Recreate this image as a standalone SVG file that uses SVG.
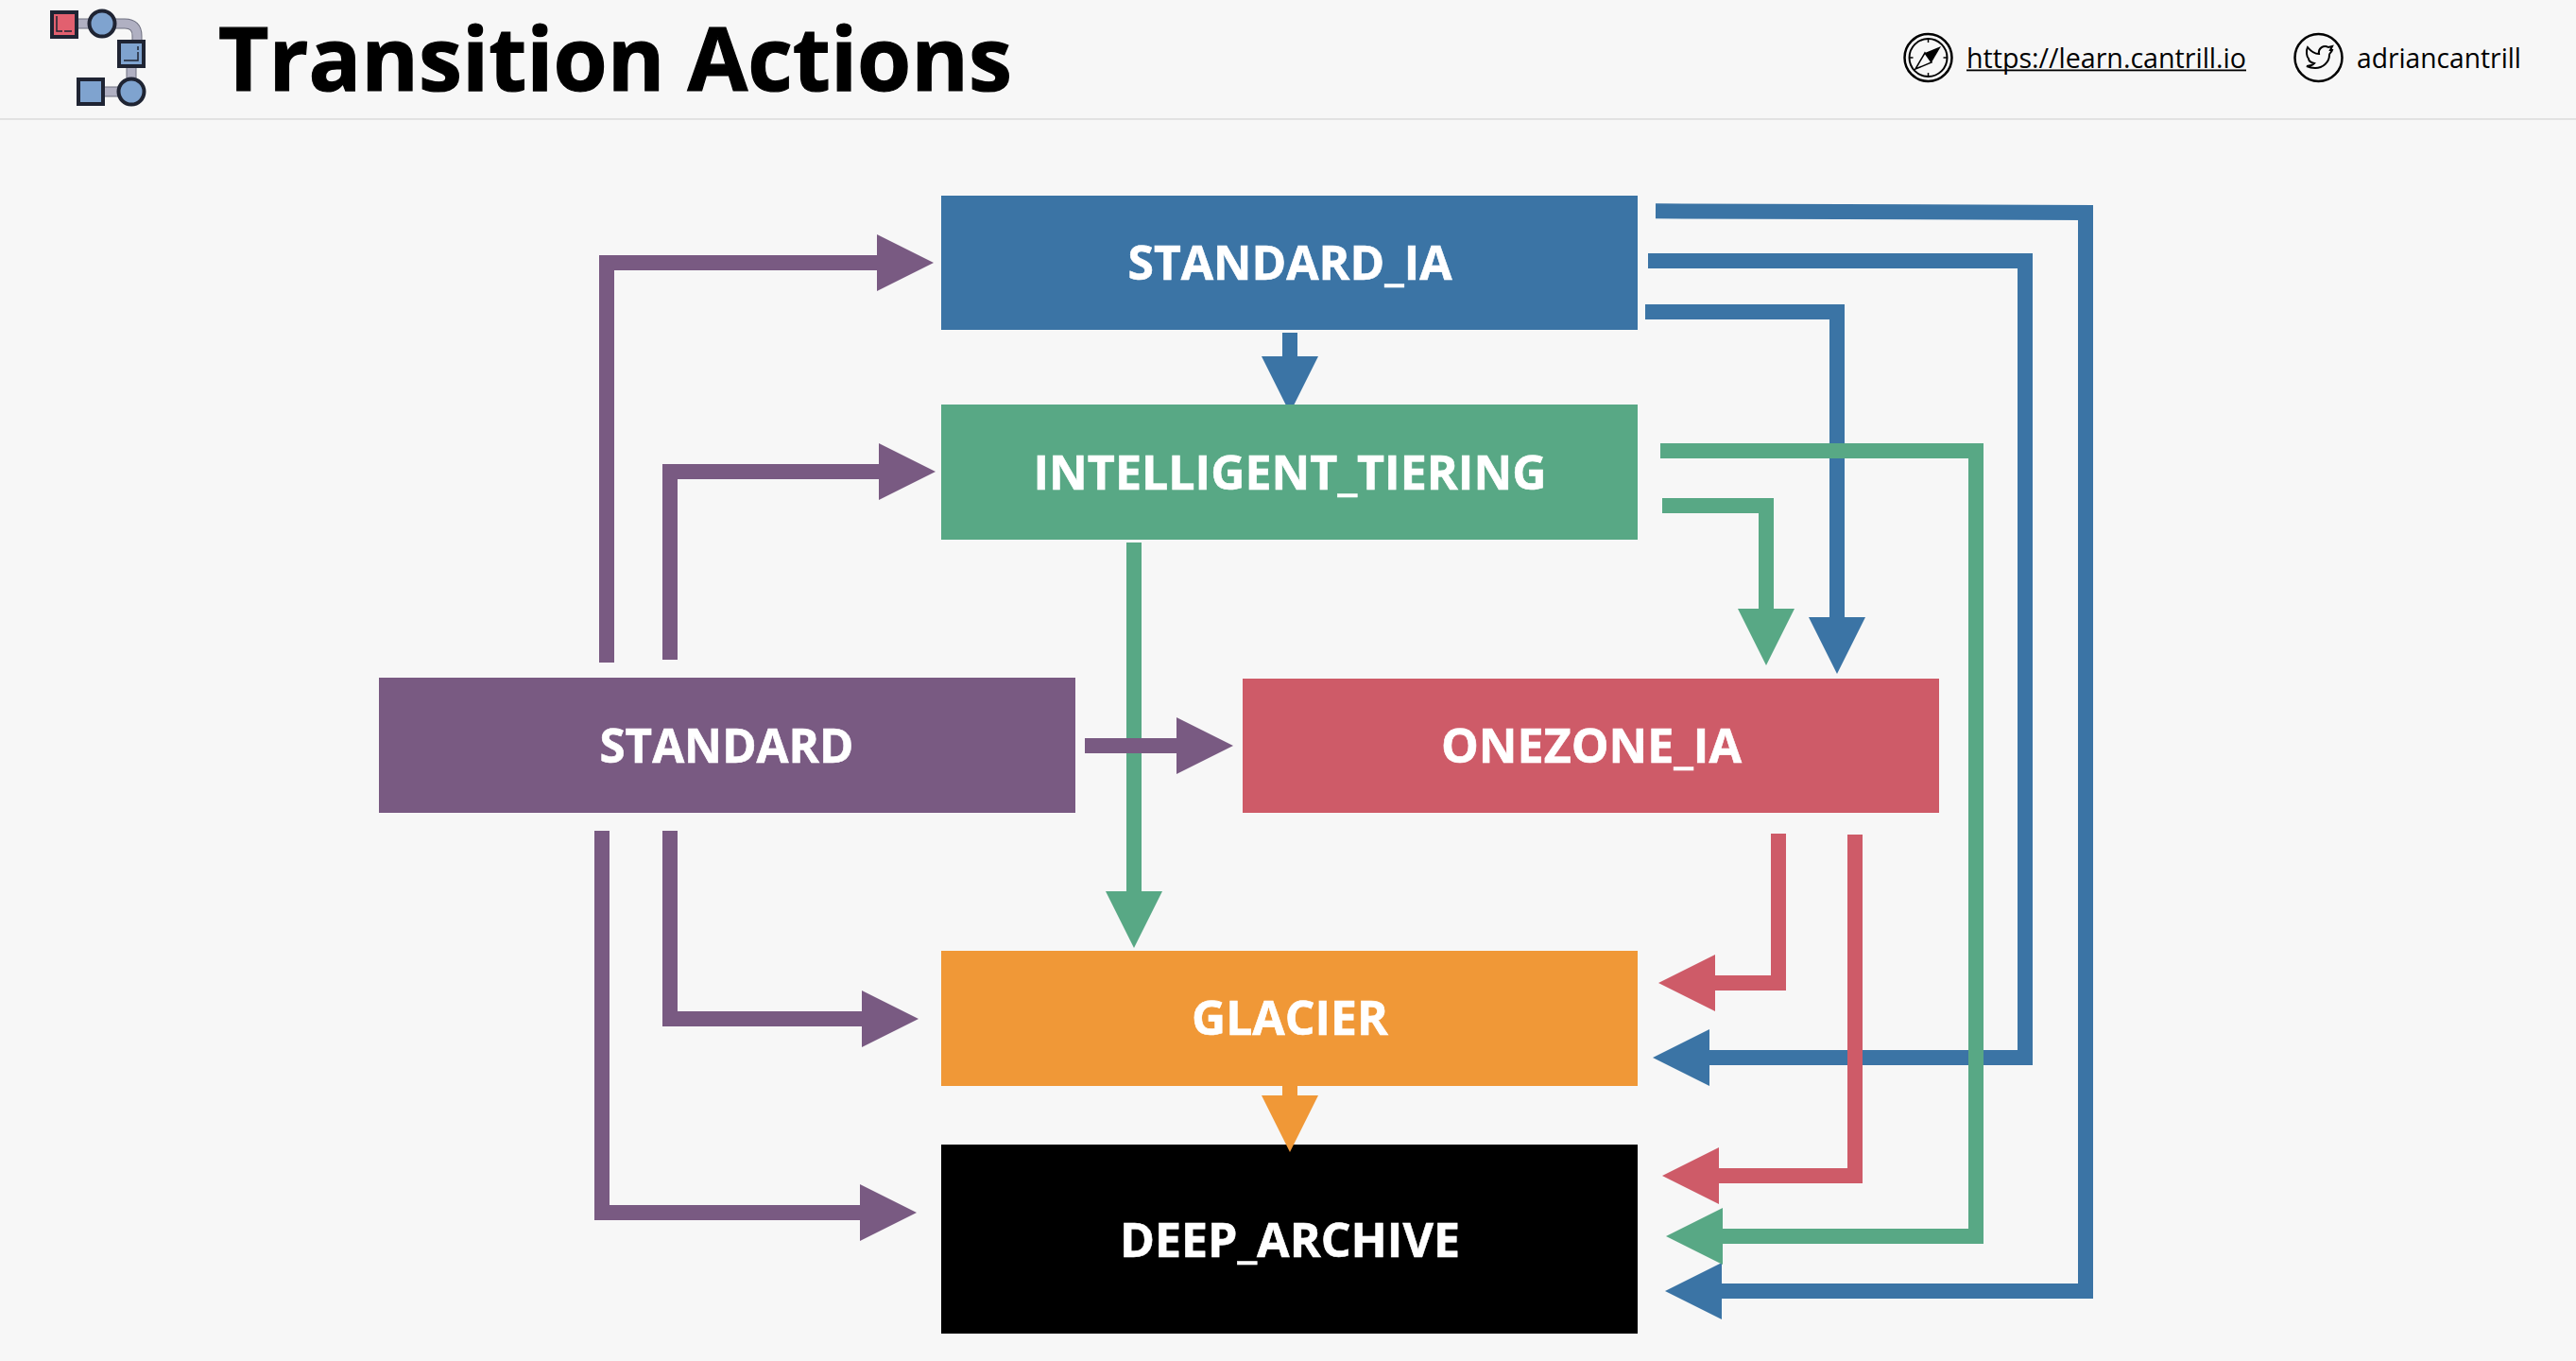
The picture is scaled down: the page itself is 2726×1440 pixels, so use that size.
<svg xmlns="http://www.w3.org/2000/svg" width="2726" height="1440" viewBox="0 0 2726 1440">
<defs>
<style>
text{font-family:"Open Sans","Noto Sans","Liberation Sans",sans-serif}
.n{font-size:51px;font-weight:700;fill:#fff;text-anchor:middle;stroke:#fff;stroke-width:.6}
.c{fill:none;stroke-width:16;stroke-linejoin:miter;stroke-linecap:butt}
.blue{stroke:#3b74a5}.green{stroke:#58a885}.red{stroke:#ce5b68}.purple{stroke:#795a82}.orange{stroke:#f09837}
.k{fill:none;stroke:#000}
.lg{stroke:#1f2433;stroke-width:4}
.link{font-size:29px;fill:#000}
</style>
<marker id="hb" markerUnits="userSpaceOnUse" markerWidth="60" markerHeight="60" viewBox="0 -30 60 60" refX="0" refY="0" orient="auto"><path d="M0-30L60 0L0 30Z" fill="#3b74a5"/></marker>
<marker id="hg" markerUnits="userSpaceOnUse" markerWidth="60" markerHeight="60" viewBox="0 -30 60 60" refX="0" refY="0" orient="auto"><path d="M0-30L60 0L0 30Z" fill="#58a885"/></marker>
<marker id="hr" markerUnits="userSpaceOnUse" markerWidth="60" markerHeight="60" viewBox="0 -30 60 60" refX="0" refY="0" orient="auto"><path d="M0-30L60 0L0 30Z" fill="#ce5b68"/></marker>
<marker id="hp" markerUnits="userSpaceOnUse" markerWidth="60" markerHeight="60" viewBox="0 -30 60 60" refX="0" refY="0" orient="auto"><path d="M0-30L60 0L0 30Z" fill="#795a82"/></marker>
<marker id="ho" markerUnits="userSpaceOnUse" markerWidth="60" markerHeight="60" viewBox="0 -30 60 60" refX="0" refY="0" orient="auto"><path d="M0-30L60 0L0 30Z" fill="#f09837"/></marker>
</defs>
<rect width="2726" height="1440" fill="#f7f7f7"/>
<rect y="125" width="2726" height="2" fill="#e2e2e2"/>
<g id="logo">
<path d="M82 25H94M122 25H132Q145 25 145 38V42M139 72V83M110 97H125" fill="none" stroke="#6f7080" stroke-width="11"/>
<path d="M82 25H94M122 25H132Q145 25 145 38V42M139 72V83M110 97H125" fill="none" stroke="#b0b0c2" stroke-width="9"/>
<rect class="lg" x="55" y="13" width="26" height="26" fill="#e2606f"/>
<path d="M60 17V33H66M68 33H76" fill="none" stroke="#1f2433" stroke-width="1.5"/>
<circle class="lg" cx="108" cy="25" r="13.5" fill="#7fa3cf"/>
<rect class="lg" x="126" y="44" width="26" height="26" fill="#7fa3cf"/>
<path d="M146 49V53M146 55V64H131" fill="none" stroke="#1f2433" stroke-width="1.5"/>
<rect class="lg" x="83" y="84" width="26" height="26" fill="#7fa3cf"/>
<circle class="lg" cx="139" cy="97" r="13.5" fill="#7fa3cf"/>
</g>
<text id="title" x="231" y="96" font-size="94" font-weight="700" fill="#000" stroke="#000" stroke-width="1.2" textLength="840" lengthAdjust="spacingAndGlyphs">Transition Actions</text>
<g id="website">
<circle class="k" cx="2040.5" cy="61" r="25" stroke-width="2.5"/>
<circle class="k" cx="2040.5" cy="61" r="20" stroke-width="2"/>
<path class="k" d="M2040.5 41V45M2040.5 77V81M2020.5 61H2024.500M2056.500 61H2060.500" stroke-width="1.500"/>
<path d="M2054 49L2044 66L2037 56Z" fill="#000"/>
<path d="M2027 73L2037 56L2044 66Z" fill="none" stroke="#000" stroke-width="1.500"/>
<text class="link" x="2081" y="72" textLength="296" lengthAdjust="spacingAndGlyphs">https://learn.cantrill.io</text>
<rect x="2081" y="73.500" width="296" height="1.800" fill="#000"/>
</g>
<g id="twitter">
<circle class="k" cx="2453.500" cy="61" r="25" stroke-width="2.500"/>
<path class="k" stroke-width="2" d="M2442 50C2446 55 2450 57 2454 57C2453 51 2459 47 2464 50L2468 49L2466 53L2468 53C2467 56 2465 56 2465 58C2465 66 2458 72 2450 72C2446 72 2443 71 2441 70C2444 70 2447 69 2449 67C2445 66 2443 64 2443 62C2441 60 2440 54 2442 50Z"/>
<text class="link" x="2494" y="72" textLength="174" lengthAdjust="spacingAndGlyphs">adriancantrill</text>
</g>
<g id="connectors">
<path class="c blue" marker-end="url(#hb)" d="M1752 223.300L2207 225V1366H1822"/>
<path class="c blue" marker-end="url(#hb)" d="M1744 276H2143V1119H1809"/>
<path class="c blue" marker-end="url(#hb)" d="M1741 330H1944V653"/>
<path class="c blue" marker-end="url(#hb)" d="M1365 352V377"/>
<path class="c green" marker-end="url(#hg)" d="M1757 477H2091V1308H1823"/>
<path class="c green" marker-end="url(#hg)" d="M1759 535H1869V644"/>
<path class="c green" marker-end="url(#hg)" d="M1200 574V943"/>
<path class="c red" marker-end="url(#hr)" d="M1882 882V1040H1815"/>
<path class="c red" marker-end="url(#hr)" d="M1963 883V1244H1819"/>
<path class="c purple" marker-end="url(#hp)" d="M642 701V278H928"/>
<path class="c purple" marker-end="url(#hp)" d="M709 698V499H930"/>
<path class="c purple" marker-end="url(#hp)" d="M1148 789H1245"/>
<path class="c purple" marker-end="url(#hp)" d="M709 879V1078H912"/>
<path class="c purple" marker-end="url(#hp)" d="M637 879V1283H910"/>
</g>
<g id="standard_ia"><rect x="996" y="207" width="737" height="142" fill="#3b74a5"/><text class="n" x="1365" y="296" textLength="343" lengthAdjust="spacingAndGlyphs">STANDARD_IA</text></g>
<g id="intelligent_tiering"><rect x="996" y="428" width="737" height="143" fill="#58a885"/><text class="n" x="1365" y="518" textLength="543" lengthAdjust="spacingAndGlyphs">INTELLIGENT_TIERING</text></g>
<g id="standard"><rect x="401" y="717" width="737" height="143" fill="#795a82"/><text class="n" x="769" y="807" textLength="269" lengthAdjust="spacingAndGlyphs">STANDARD</text></g>
<g id="onezone_ia"><rect x="1315" y="718" width="737" height="142" fill="#ce5b68"/><text class="n" x="1684" y="807" textLength="318" lengthAdjust="spacingAndGlyphs">ONEZONE_IA</text></g>
<g id="glacier"><rect x="996" y="1006" width="737" height="143" fill="#f09837"/><text class="n" x="1365" y="1095" textLength="208" lengthAdjust="spacingAndGlyphs">GLACIER</text></g>
<g id="deep_archive"><rect x="996" y="1211" width="737" height="200" fill="#000"/><text class="n" x="1365" y="1330" textLength="360" lengthAdjust="spacingAndGlyphs">DEEP_ARCHIVE</text></g>
<g id="connectors-over"><path class="c orange" marker-end="url(#ho)" d="M1365 1149V1159"/></g>
</svg>
